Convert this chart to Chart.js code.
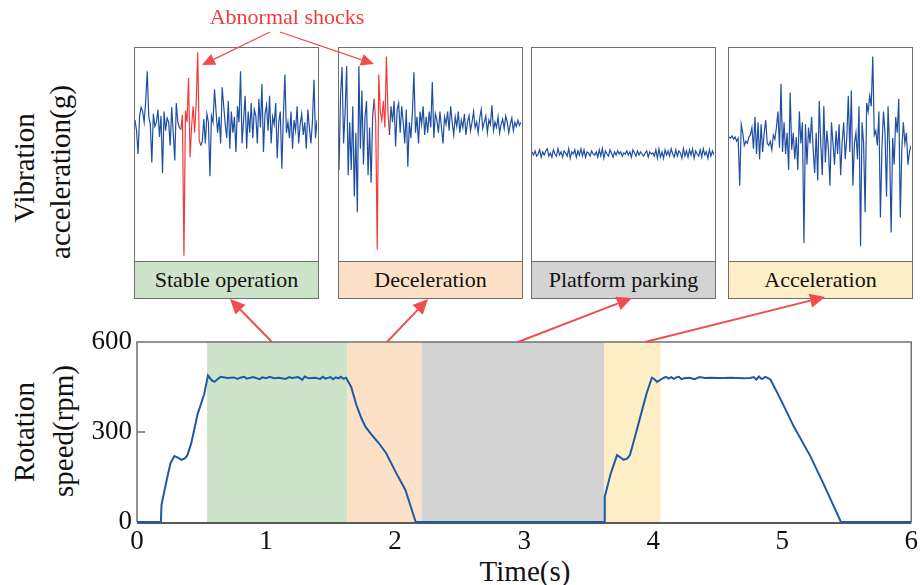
<!DOCTYPE html>
<html>
<head>
<meta charset="utf-8">
<script src="https://cdn.jsdelivr.net/npm/chart.js@4.4.1/dist/chart.umd.min.js"></script>
<style>
  body { margin: 0; background: #fff; }
  #stage { position: relative; width: 922px; height: 585px; overflow: hidden;
           font-family: "Liberation Serif", "Times New Roman", serif; color: #111; }
  .panel { position: absolute; top: 47px; width: 185px; height: 252px; box-sizing: border-box;
           border: 1.5px solid #6f6f6f; background: #fff; }
  .panel canvas { display: block; }
  .tag { position: absolute; left: 0; right: 0; bottom: 0; height: 37px; box-sizing: border-box;
         border-top: 1.5px solid #6f6f6f; font-size: 22px; line-height: 35px; text-align: center; }
  .vt { position: absolute; white-space: nowrap; font-size: 29px; line-height: 1;
        transform: translate(-50%, -50%) rotate(-90deg); }
  .ht { position: absolute; white-space: nowrap; transform: translate(-50%, -50%); line-height: 1; }
  #speed { position: absolute; left: 0; top: 0; z-index: 3; pointer-events: none; }
</style>
</head>
<body>
<div id="stage">
  <div class="panel" style="left:134px"><canvas id="v1" width="182" height="212"></canvas><div class="tag" id="t1"></div></div>
  <div class="panel" style="left:338px"><canvas id="v2" width="182" height="212"></canvas><div class="tag" id="t2"></div></div>
  <div class="panel" style="left:531px"><canvas id="v3" width="182" height="212"></canvas><div class="tag" id="t3"></div></div>
  <div class="panel" style="left:728px"><canvas id="v4" width="182" height="212"></canvas><div class="tag" id="t4"></div></div>

  <canvas id="speed" width="922" height="585"></canvas>

  <div class="ht" style="left:287px;top:17px;font-size:22px;color:#ef3b3b;z-index:4">Abnormal shocks</div>
  <div class="vt" style="left:24px;top:168px">Vibration</div>
  <div class="vt" style="left:60px;top:172px">acceleration(g)</div>
  <div class="vt" style="left:24px;top:432px">Rotation</div>
  <div class="vt" style="left:63px;top:431px">speed(rpm)</div>
  <div class="ht" style="left:525px;top:571px;font-size:29px">Time(s)</div>
</div>

<script>
// ---- rotation speed record ----
const speedTime = [0, 0.185, 0.19, 0.23, 0.26, 0.29, 0.32, 0.345, 0.37, 0.39, 0.42, 0.47, 0.52, 0.55, 0.58,
  0.60, 0.63, 0.65, 0.70, 0.75, 0.78, 0.80, 0.83, 0.85, 0.90, 0.95, 0.97, 1.00, 1.03, 1.06, 1.10, 1.15,
  1.18, 1.20, 1.25, 1.28, 1.30, 1.33, 1.38, 1.42, 1.44, 1.46, 1.50, 1.52, 1.54, 1.56, 1.58, 1.60, 1.62,
  1.66, 1.70, 1.74, 1.77, 1.82, 1.87, 1.93, 2.01,
  2.08, 2.16, 3.62, 3.625, 3.67, 3.72, 3.75, 3.77, 3.80, 3.82, 3.85, 3.90, 3.95, 3.99, 4.01, 4.03, 4.06,
  4.08, 4.10, 4.12, 4.14, 4.16, 4.18, 4.20, 4.22, 4.24, 4.28, 4.32, 4.36, 4.40, 4.45, 4.50, 4.55, 4.60,
  4.65, 4.70, 4.75, 4.78, 4.80, 4.82, 4.84, 4.85, 4.87, 4.89, 4.91, 4.99, 5.09, 5.22, 5.33, 5.455, 6];
const speedRpm = [0, 0, 57, 140, 197, 220, 214, 207, 212, 222, 262, 360, 425, 488, 472,
  467, 478, 484, 480, 482, 477, 481, 484, 478, 483, 476, 482, 479, 484, 479, 481, 477,
  483, 480, 483, 474, 485, 479, 481, 477, 484, 478, 483, 476, 482, 479, 484, 477, 481,
  450, 390, 345, 318, 290, 265, 230, 162,
  107, 0, 0, 84, 160, 223, 214, 207, 212, 223, 270, 350, 430, 481, 476, 467, 475,
  480, 484, 478, 483, 477, 482, 484, 476, 479, 481, 476, 483, 480, 481, 480, 480,
  481, 480, 479, 480, 483, 475, 485, 477, 478, 484, 480, 474, 407, 318, 218, 118, 0, 0];

// ---- operating phases ----
const phaseNames = ['Stable operation', 'Deceleration', 'Platform parking', 'Acceleration'];
const phaseStart = [0.543, 1.632, 2.205, 3.62];
const phaseEnd = [1.632, 2.205, 3.62, 4.056];

// ---- vibration samples, one window per phase ----
const vibStable = [0.32, 0.22, 0.00, 0.36, 0.44, 0.40, 0.30, 0.50, 0.78, 0.35, 0.28, -0.08, 0.38, 0.26, 0.30,
  0.42, 0.16, 0.36, -0.18, 0.40, 0.22, 0.34, 0.30, 0.08, 0.44, 0.20, -0.06, 0.48, 0.30, 0.25,
  0.23, 0.37, -0.96, 0.41, 0.30, 0.72, -0.03, 0.26, 0.45, 0.20, 0.48, 0.96, 0.13, 0.08,
  0.12, 0.33, 0.10, 0.38, 0.30, -0.21, 0.36, 0.30, 0.61, 0.40, 0.20, 0.35, 0.10, 0.63, 0.45, 0.28,
  0.15, 0.50, 0.05, 0.40, 0.20, 0.35, 0.02, 0.45, 0.30, 0.78, 0.10, 0.32, 0.55, 0.05, 0.40, 0.20,
  0.48, 0.15, 0.42, 0.36, 0.10, 0.52, 0.25, 0.66, 0.02, 0.38, 0.46, 0.22, 0.55, 0.10, 0.35, 0.28,
  0.48, -0.04, 0.30, 0.40, -0.14, 0.36, 0.75, 0.20, 0.30, 0.15, 0.40, 0.05, 0.32, 0.22, 0.45, 0.10,
  0.28, 0.38, 0.18, 0.30, 0.05, 0.42, 0.25, 0.10, 0.30, 0.70, 0.15, 0.32];
const vibDecel = [-0.15, 0.55, 0.82, 0.10, 0.40, 0.83, -0.20, 0.30, -0.15, 0.45, -0.40, 0.20, -0.55, 0.83,
  0.05, 0.60, -0.10, 0.35, 0.50, -0.20, 0.25, -0.27, 0.35,
  0.52, 0.30, -0.90, 0.75, 0.40, 0.32, 0.50, 0.25, 0.92, 0.40, 0.18,
  0.45, 0.30, 0.50, 0.07, 0.42, 0.48, 0.20, 0.45, 0.30, 0.10, 0.42, -0.12, 0.30, 0.15, 0.40, 0.77,
  0.20, 0.35, 0.10, 0.40, 0.28, 0.45, 0.18, 0.35, 0.20, 0.40, 0.25, 0.68, 0.15, 0.38, 0.32, 0.20,
  0.40, 0.25, 0.10, 0.35, 0.28, 0.40, 0.22, 0.45, 0.30, 0.18, 0.35, 0.26, 0.40, 0.20, 0.32, 0.25,
  0.38, 0.18, 0.30, 0.36, 0.22, 0.30, 0.40, 0.25, 0.30, 0.20, 0.34, 0.42, 0.24, 0.30, 0.36, 0.20,
  0.32, 0.28, 0.46, 0.22, 0.30, 0.25, 0.35, 0.20, 0.28, 0.33, 0.24, 0.36, 0.30, 0.20, 0.28, 0.34,
  0.22, 0.30, 0.26, 0.32, 0.27, 0.30];
const vibParking = [0.02, -0.01, 0.03, -0.02, 0.00, 0.04, -0.03, 0.02, -0.01, 0.03, 0.05, -0.02, 0.01, -0.03,
  0.04, 0.00, -0.02, 0.05, -0.01, 0.02, -0.03, 0.03, 0.01, -0.02, 0.05, -0.04, 0.02, 0.00, 0.04, -0.03,
  0.03, -0.01, 0.05, -0.02, 0.04, -0.03, 0.02, 0.01, -0.02, 0.03, 0.00, -0.01, 0.02, -0.03, 0.04, -0.02,
  0.05, -0.04, 0.03, 0.00, -0.02, 0.04, 0.01, -0.03, 0.02, -0.01, 0.03, 0.00, 0.02, -0.02, 0.01, 0.00,
  0.03, -0.01, 0.02, -0.03, 0.04, 0.01, -0.02, 0.03, -0.01, 0.02, 0.00, -0.02, 0.01, 0.03, -0.03, 0.02,
  0.00, 0.01, -0.02, 0.04, -0.04, 0.05, -0.03, 0.02, -0.04, 0.04, -0.01, 0.03, -0.02, 0.05, 0.00, -0.03,
  0.04, -0.02, 0.03, 0.01, -0.04, 0.05, -0.02, 0.03, -0.03, 0.04, -0.01, 0.05, -0.04, 0.03, 0.00, -0.02,
  0.04, -0.03, 0.05, -0.01, 0.02, -0.04, 0.04, -0.02, 0.03, -0.01];
const vibAccel = [0.16, 0.15, 0.17, 0.14, 0.16, 0.12, 0.15, -0.30, 0.28, 0.20, 0.08, 0.12, 0.10, 0.16, 0.18,
  0.25, 0.05, 0.35, 0.00, 0.30, -0.05, 0.28, 0.02, 0.20, 0.32, 0.10, 0.08, 0.12, 0.04, 0.18, 0.14, 0.25,
  0.40, 0.06, 0.66, 0.02, 0.30, 0.00, 0.20, -0.15, 0.58, 0.04, 0.20, -0.05, 0.16, -0.15, 0.40, 0.10,
  0.30, -0.84, 0.28, -0.10, 0.25, 0.10, 0.35, 0.05, -0.18, 0.20, -0.25, 0.50, 0.10, -0.20, 0.45, -0.08,
  0.22, 0.05, -0.30, 0.30, 0.10, -0.10, 0.22, 0.00, 0.28, -0.20, 0.12, 0.30, -0.05, 0.15, 0.55, 0.02,
  0.60, -0.30, 0.10, 0.20, -0.05, 0.45, -0.87, 0.30, 0.10, -0.55, 0.48, 0.40, 0.55, 0.45, 0.92, 0.18,
  0.22, 0.08, 0.40, -0.60, 0.06, 0.40, 0.20, -0.40, 0.45, 0.05, -0.74, 0.15, -0.10, 0.35, 0.20, 0.52,
  -0.60, 0.05, 0.30, 0.10, 0.20, -0.10, 0.02, 0.08];

// sample index ranges of the abnormal shocks
const shockStable = [30, 43];
const shockDecel = [23, 33];

// ---- styles ----
const FONT = '"Liberation Serif", "Times New Roman", serif';
const phaseFill = ['#cde4cb', '#fde1c6', '#d3d3d3', '#fdeec6'];
const SIG_BLUE = '#1f4fa3';
const SIG_RED = '#f53a3a';
const ARROW_RED = '#f04d4d';

['t1', 't2', 't3', 't4'].forEach((id, i) => {
  const el = document.getElementById(id);
  el.textContent = phaseNames[i];
  el.style.background = phaseFill[i];
});

function vibPanel(id, values, shock) {
  const ds = { data: values, borderColor: SIG_BLUE, borderWidth: 1.2, pointRadius: 0, tension: 0 };
  if (shock) {
    ds.segment = {
      borderColor: c => (c.p0DataIndex >= shock[0] && c.p0DataIndex < shock[1]) ? SIG_RED : SIG_BLUE
    };
  }
  new Chart(document.getElementById(id), {
    type: 'line',
    data: { labels: values.map((_, i) => i), datasets: [ds] },
    options: {
      responsive: false, animation: false, events: [],
      plugins: { legend: { display: false }, tooltip: { enabled: false } },
      layout: { padding: 0 },
      scales: {
        x: { display: false, offset: false },
        y: { display: false, min: -1, max: 1 }
      }
    }
  });
}
vibPanel('v1', vibStable, shockStable);
vibPanel('v2', vibDecel, shockDecel);
vibPanel('v3', vibParking, null);
vibPanel('v4', vibAccel, null);

function arrow(ctx, x0, y0, x1, y1, w, head, hw) {
  const a = Math.atan2(y1 - y0, x1 - x0);
  const bx = x1 - head * Math.cos(a), by = y1 - head * Math.sin(a);
  ctx.lineWidth = w;
  ctx.beginPath(); ctx.moveTo(x0, y0); ctx.lineTo(bx, by); ctx.stroke();
  ctx.beginPath();
  ctx.moveTo(x1, y1);
  ctx.lineTo(bx + hw * Math.sin(a), by - hw * Math.cos(a));
  ctx.lineTo(bx - hw * Math.sin(a), by + hw * Math.cos(a));
  ctx.closePath(); ctx.fill();
}

// shaded phases, plot frame and callout arrows
const phasePlugin = {
  id: 'phases',
  beforeDatasetsDraw(chart) {
    const { ctx, chartArea: a, scales: { x, y } } = chart;
    ctx.save();
    phaseStart.forEach((s, i) => {
      const x0 = x.getPixelForValue(s), x1 = x.getPixelForValue(phaseEnd[i]);
      ctx.fillStyle = phaseFill[i];
      ctx.fillRect(x0, a.top, x1 - x0, a.bottom - a.top);
    });
    ctx.lineWidth = 1.5;
    ctx.strokeStyle = '#707070';
    ctx.beginPath();
    ctx.moveTo(a.left, a.bottom); ctx.lineTo(a.left, a.top); ctx.lineTo(a.right, a.top); ctx.lineTo(a.right, a.bottom);
    ctx.stroke();
    ctx.strokeStyle = '#222';
    ctx.beginPath(); ctx.moveTo(a.left, a.bottom + 1); ctx.lineTo(a.right, a.bottom + 1); ctx.stroke();
    const ty = y.getPixelForValue(300);
    ctx.strokeStyle = '#707070';
    ctx.beginPath(); ctx.moveTo(a.left, ty); ctx.lineTo(a.left + 8, ty); ctx.stroke();
    ctx.restore();
  },
  afterDraw(chart) {
    const ctx = chart.ctx;
    ctx.save();
    ctx.strokeStyle = ARROW_RED; ctx.fillStyle = ARROW_RED;
    arrow(ctx, 272, 342, 230, 299, 2, 15, 7);
    arrow(ctx, 387, 342, 428, 299, 2, 15, 7);
    arrow(ctx, 518, 342, 632, 298, 2, 15, 7);
    arrow(ctx, 645, 342, 825, 297, 2, 15, 7);
    arrow(ctx, 270, 32, 202, 65, 1.3, 13, 6);
    arrow(ctx, 280, 32, 374, 64, 1.3, 13, 6);
    ctx.restore();
  }
};

new Chart(document.getElementById('speed'), {
  type: 'line',
  data: {
    datasets: [{
      data: speedTime.map((t, i) => ({ x: t, y: speedRpm[i] })),
      borderColor: '#1c5aa6', borderWidth: 2, pointRadius: 0, tension: 0, clip: false
    }]
  },
  options: {
    responsive: false, animation: false, events: [],
    plugins: { legend: { display: false }, tooltip: { enabled: false } },
    layout: { padding: { left: 0, right: 6, top: 342, bottom: 0 } },
    scales: {
      x: {
        type: 'linear', min: 0, max: 6,
        ticks: { stepSize: 1, maxRotation: 0, padding: 4, color: '#111', font: { family: FONT, size: 27 } },
        grid: { display: false, drawTicks: false }, border: { display: false },
        afterFit(s) { s.height = 63; }
      },
      y: {
        min: 0, max: 600,
        ticks: { stepSize: 300, padding: 5, color: '#111', font: { family: FONT, size: 27 } },
        grid: { display: false, drawTicks: false }, border: { display: false },
        afterFit(s) { s.width = 137; }
      }
    }
  },
  plugins: [phasePlugin]
});
</script>
</body>
</html>
